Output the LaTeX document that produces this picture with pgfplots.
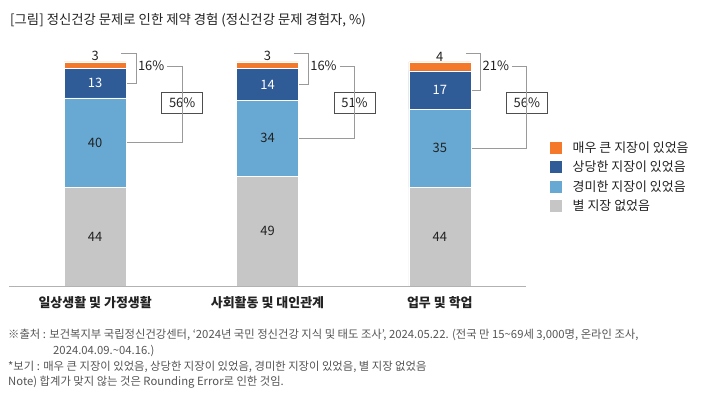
\documentclass[border=0pt]{standalone}
\usepackage{pgfplots}
\usepackage{pgfplotstable}
\pgfplotsset{compat=1.18}
\usepackage{fontspec}
\setmainfont{Noto Sans CJK KR}
\newfontfamily\notefont{Noto Sans CJK KR}
\definecolor{corange}{HTML}{F5792A}
\definecolor{cdblue}{HTML}{2F5B97}
\definecolor{clblue}{HTML}{68A9D3}
\definecolor{cgray}{HTML}{C6C6C6}
\definecolor{ctext}{HTML}{222222}
\definecolor{cnote}{HTML}{555555}
\definecolor{cbrk}{HTML}{9A9A9A}
\newcommand{\numfont}{\fontsize{13}{15}\selectfont}
\newcommand{\legfont}{\fontsize{13}{15}\selectfont}

\pgfplotstableread{
x a b c d
0 44 40 13 3
1 49 34 14 3
2 44 35 17 4
}\data

\newcommand{\brk}[5]{%
  \draw[cbrk, line width=0.9pt] ([xshift=26bp]axis cs:#1,104) -- ([xshift=41bp]axis cs:#1,104) -- ([xshift=41bp]axis cs:#1,#2) -- ([xshift=31bp]axis cs:#1,#2);
  \node[text=ctext, font=\numfont, inner sep=0pt] at ([xshift=56bp]axis cs:#1,98.2) {#4\%};
  \draw[cbrk, line width=0.9pt] ([xshift=72bp]axis cs:#1,98.2) -- ([xshift=87bp]axis cs:#1,98.2) -- ([xshift=87bp]axis cs:#1,#3) -- ([xshift=31bp]axis cs:#1,#3);
  \node[draw=ctext!80, line width=0.8pt, fill=white, text=ctext, font=\numfont, minimum width=41bp, minimum height=21bp, inner sep=0pt] at ([xshift=87bp]axis cs:#1,81.7) {#5\%};
}

\begin{document}
\begin{tikzpicture}
\useasboundingbox (0,0) rectangle (702bp,398bp);
\node[anchor=west, inner sep=0pt, text=ctext, font=\fontsize{13.4}{15}\selectfont] at (10bp,378bp) {[그림] 정신건강 문제로 인한 제약 경험 (정신건강 문제 경험자, \%)};
\begin{axis}[
  at={(9bp,112bp)}, anchor=south west,
  scale only axis, width=517bp, height=224bp,
  xmin=-0.5, xmax=2.5, ymin=0, ymax=100,
  ybar stacked, bar width=62bp,
  axis x line*=bottom, axis y line=none,
  x axis line style={draw=black!30, line width=0.8pt, -},
  axis on top,
  xtick=data,
  xticklabels={일상생활 및 가정생활, 사회활동 및 대인관계, 업무 및 학업},
  xtick style={draw=none},
  xticklabel style={font=\bfseries\fontsize{13}{15}\selectfont, text=ctext, yshift=-7bp},
  /pgf/number format/assume math mode=true,
  clip=false,
  reverse legend,
  legend image code/.code={\fill[#1] (0bp,-6.5bp) rectangle (13bp,6.5bp);},
  legend style={at={(rel axis cs:1.0445,0.6496)}, anchor=north west, draw=none, fill=none, inner sep=0pt,
     row sep=6bp, nodes={inner sep=0pt, font=\legfont, text=ctext, anchor=west},
     /tikz/every odd column/.style={column sep=10bp}},
  legend cell align=left,
]
\addplot[fill=cgray, draw=white, line width=0.5pt,
  nodes near coords, point meta=\thisrow{a},
  every node near coord/.append style={anchor=center, font=\numfont, text=ctext}]
  table[x=x,y=a]{\data};
\addlegendentry{별 지장 없었음}
\addplot[fill=clblue, draw=white, line width=0.5pt,
  nodes near coords, point meta=\thisrow{b},
  every node near coord/.append style={anchor=center, font=\numfont, text=ctext}]
  table[x=x,y=b]{\data};
\addlegendentry{경미한 지장이 있었음}
\addplot[fill=cdblue, draw=white, line width=0.5pt,
  nodes near coords, point meta=\thisrow{c},
  every node near coord/.append style={anchor=center, font=\numfont, text=white}]
  table[x=x,y=c]{\data};
\addlegendentry{상당한 지장이 있었음}
\addplot[fill=corange, draw=white, line width=0.5pt,
  nodes near coords, point meta=\thisrow{d},
  every node near coord/.append style={anchor=south, inner sep=4.5bp, font=\numfont, text=ctext}]
  table[x=x,y=d]{\data};
\addlegendentry{매우 큰 지장이 있었음}
\brk{0}{90.5}{64}{16}{56}
\brk{1}{90}{66}{16}{51}
\brk{2}{87.5}{61.5}{21}{56}
\end{axis}
\begin{scope}[every node/.style={anchor=west, inner sep=0pt, text=cnote, font=\notefont\fontsize{11.35}{13}\selectfont}]
\node at (8bp,63bp) {※출처 : 보건복지부 국립정신건강센터, ‘2024년 국민 정신건강 지식 및 태도 조사’, 2024.05.22. (전국 만 15\textasciitilde 69세 3,000명, 온라인 조사,};
\node at (53bp,47bp) {2024.04.09.\textasciitilde 04.16.)};
\node at (8bp,31bp) {*보기 : 매우 큰 지장이 있었음, 상당한 지장이 있었음, 경미한 지장이 있었음, 별 지장 없었음};
\node at (8bp,16bp) {Note) 합계가 맞지 않는 것은 Rounding Error로 인한 것임.};
\end{scope}
\end{tikzpicture}
\end{document}
